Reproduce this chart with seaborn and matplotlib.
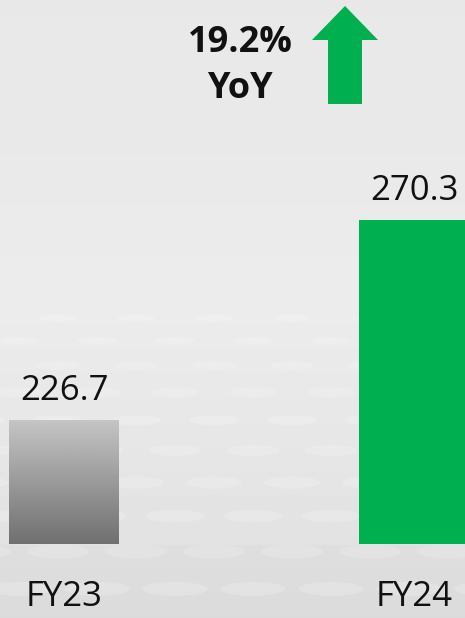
import numpy as np
import pandas as pd
import matplotlib
matplotlib.use("Agg")
import matplotlib.pyplot as plt
from matplotlib.patches import Polygon, Ellipse
import seaborn as sns

# data
categories = ["FY23", "FY24"]
revenue = [226.7, 270.3]
value_labels = ["226.7", "270.3"]
growth_label = "19.2%\nYoY"

sns.set_theme(style="white")
plt.rcParams['font.family'] = ['Open Sans', 'DejaVu Sans']

W, H = 465, 618
fig = plt.figure(figsize=(W / 100, H / 100), dpi=100)

# background layer (pixel coordinates)
bg = fig.add_axes([0, 0, 1, 1])
bg.set_xlim(0, W)
bg.set_ylim(H, 0)
bg.axis('off')
stops_y = [0, 150, 300, 450, 544, 546, 618]
stops_v = [232, 233, 236, 230, 226, 222, 219]
col = np.interp(np.arange(H), stops_y, stops_v) / 255
bg.imshow(np.repeat(col[:, None], 2, axis=1), cmap='gray', vmin=0, vmax=1,
          extent=[0, W, H, 0], aspect='auto', zorder=0)

# faint dotted floor pattern
for i in range(13):
    y = 318 + i * 22 + i * i * 0.9
    w, h = 38 + i * 3, 7 + i * 0.8
    step = 78
    off = (i % 2) * step / 2
    for x in np.arange(-20 + off, W + 40, step):
        bg.add_patch(Ellipse((x, y), w, h, color='white', alpha=0.18, lw=0, zorder=1))

# growth arrow
arrow = [(345, 6), (378, 40), (362, 40), (362, 104), (328, 104), (328, 40), (312, 40)]
bg.add_patch(Polygon(arrow, closed=True, color='#00b050', lw=0, zorder=2))

# bars
ax = fig.add_axes([0, 74 / H, 1, 544 / H])
ax.set_facecolor('none')
df = pd.DataFrame({'period': categories, 'revenue': revenue})
sns.barplot(data=df, x='period', y='revenue', hue='period',
            palette=['#a0a0a0', '#00b050'], width=0.314, saturation=1,
            edgecolor='none', linewidth=0, legend=False, ax=ax)

y0 = 199.67
ax.set_xlim(-64 / 350, (W - 64) / 350)
ax.set_ylim(y0, y0 + 544 / 4.587)

# gradient fill for the FY23 bar
p = ax.patches[0]
grad = np.linspace(0.77, 0.44, 100)[:, None]
im = ax.imshow(grad, cmap='gray', vmin=0, vmax=1, aspect='auto',
               extent=[p.get_x(), p.get_x() + p.get_width(), y0, revenue[0]],
               origin='upper', zorder=3)
im.set_clip_path(p)
ax.set_xlim(-64 / 350, (W - 64) / 350)
ax.set_ylim(y0, y0 + 544 / 4.587)

for cont, lab in zip(ax.containers, value_labels):
    ax.bar_label(cont, labels=[lab], padding=9, fontsize=25, color='#111111')

ax.set_xlabel('')
ax.set_ylabel('')
ax.set_yticks([])
ax.tick_params(axis='x', length=0, pad=26, labelsize=25, labelcolor='#111111')
sns.despine(ax=ax, left=True, bottom=True)

fig.text(240 / W, 1 - 66 / H, growth_label, ha='center', va='center',
         fontsize=26, fontweight='bold', color='#111111', linespacing=1.4)

fig.savefig('out.png', dpi=100)
